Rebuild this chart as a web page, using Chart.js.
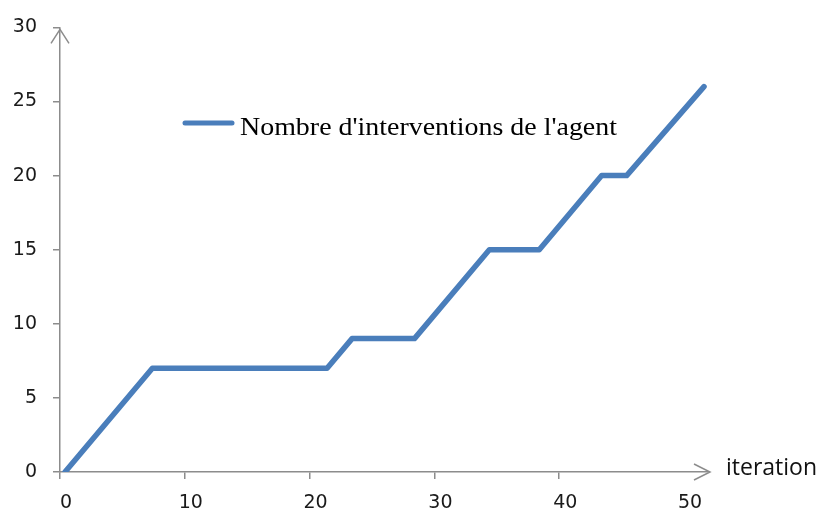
<!DOCTYPE html>
<html>
<head>
<meta charset="utf-8">
<script src="https://cdn.jsdelivr.net/npm/chart.js@4/dist/chart.umd.min.js"></script>
<style>
  html, body { margin: 0; padding: 0; background: #ffffff; }
  #wrap { width: 826px; height: 514px; }
</style>
</head>
<body>
<div id="wrap"><canvas id="graphique"></canvas></div>
<script>
// points de cassure de la courbe (iteration, nombre d'interventions)
var iterations = [0.4, 7.4, 21.4, 23.4, 28.4, 34.4, 38.4, 43.4, 45.4, 51.6];
var interventions = [0, 7, 7, 9, 9, 15, 15, 20, 20, 26];
var xTicks = [0, 10, 20, 30, 40, 50];
var yTicks = [0, 5, 10, 15, 20, 25, 30];
var serieLabel = "Nombre d'interventions de l'agent";
var xTitre = 'iteration';

var gris = '#8c8c8c';
var bleu = '#4a7ebb';

// fleches au bout des axes + legende dans la zone + titre de l'axe x
var decorations = {
    id: 'decorations',
    afterDraw: function (chart) {
        var ctx = chart.ctx;
        var a = chart.chartArea;
        ctx.save();
        ctx.strokeStyle = gris;
        ctx.lineWidth = 1.5;
        // fleche axe y
        ctx.beginPath();
        ctx.moveTo(a.left - 9, a.top + 16);
        ctx.lineTo(a.left, a.top + 2);
        ctx.lineTo(a.left + 9, a.top + 16);
        ctx.stroke();
        // fleche axe x
        ctx.beginPath();
        ctx.moveTo(a.right - 15, a.bottom - 8);
        ctx.lineTo(a.right + 1, a.bottom);
        ctx.lineTo(a.right - 15, a.bottom + 8);
        ctx.stroke();

        // titre axe x
        ctx.fillStyle = '#111';
        ctx.font = '23px "Open Sans"';
        ctx.textBaseline = 'middle';
        ctx.textAlign = 'left';
        ctx.fillText(xTitre, a.right + 17, a.bottom - 4);

        // legende
        var ds = chart.data.datasets[0];
        ctx.strokeStyle = ds.borderColor;
        ctx.lineWidth = 5;
        ctx.lineCap = 'round';
        ctx.beginPath();
        ctx.moveTo(185, 123);
        ctx.lineTo(232, 123);
        ctx.stroke();
        ctx.fillStyle = '#000';
        ctx.font = '26px "Liberation Serif"';
        ctx.textBaseline = 'alphabetic';
        var w = ctx.measureText(ds.label).width;
        ctx.translate(240, 135);
        ctx.scale(377 / w, 1);
        ctx.fillText(ds.label, 0, 0);
        ctx.restore();
    }
};

new Chart(document.getElementById('graphique').getContext('2d'), {
    type: 'line',
    data: {
        datasets: [
            {
                label: serieLabel,
                data: iterations.map(function (x, i) { return { x: x, y: interventions[i] }; }),
                borderColor: bleu,
                backgroundColor: bleu,
                borderWidth: 5.5,
                borderCapStyle: 'round',
                borderJoinStyle: 'round',
                pointRadius: 0,
                tension: 0,
                fill: false
            }
        ]
    },
    options: {
        responsive: true,
        maintainAspectRatio: false,
        animation: false,
        layout: { padding: { top: 24, right: 117, bottom: 0, left: 0 } },
        plugins: {
            legend: { display: false },
            tooltip: { enabled: false }
        },
        scales: {
            x: {
                type: 'linear',
                min: 0,
                max: 52,
                afterBuildTicks: function (scale) {
                    scale.ticks = xTicks.map(function (v) { return { value: v }; });
                },
                afterFit: function (scale) { scale.height = 42; },
                grid: {
                    drawOnChartArea: false,
                    drawTicks: true,
                    tickLength: 7,
                    color: function (c) { return c.tick && c.tick.value === 50 ? 'rgba(0,0,0,0)' : gris; },
                    lineWidth: 1.5
                },
                border: { display: true, color: gris, width: 1.5 },
                ticks: {
                    color: '#1a1a1a',
                    font: { family: 'DejaVu Sans', size: 19 },
                    padding: 13,
                    labelOffset: 6,
                    maxRotation: 0
                }
            },
            y: {
                min: 0,
                max: 30,
                afterBuildTicks: function (scale) {
                    scale.ticks = yTicks.map(function (v) { return { value: v }; });
                },
                afterFit: function (scale) { scale.width = 60; },
                grid: {
                    drawOnChartArea: false,
                    drawTicks: true,
                    tickLength: 7,
                    color: gris,
                    lineWidth: 1.5
                },
                border: { display: true, color: gris, width: 1.5 },
                ticks: {
                    color: '#1a1a1a',
                    font: { family: 'DejaVu Sans', size: 19 },
                    padding: 16
                }
            }
        }
    },
    plugins: [decorations]
});
</script>
</body>
</html>
